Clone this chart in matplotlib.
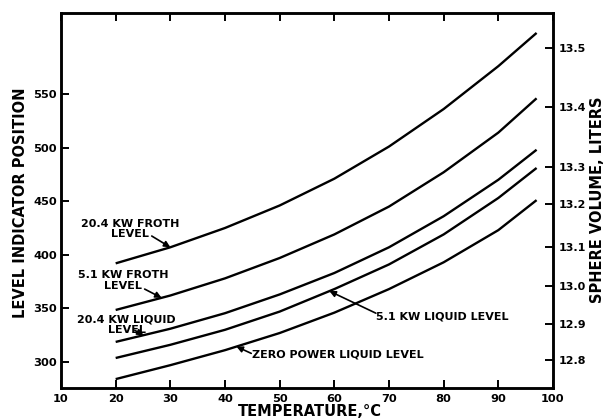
import matplotlib
matplotlib.use("Agg")
import matplotlib.pyplot as plt
import numpy as np

# ---- data ----
temperature = [20, 30, 40, 50, 60, 70, 80, 90, 97]
froth_20kw = [392, 407, 425, 446, 471, 501, 536, 576, 607]
froth_5kw = [348.5, 362, 378, 397, 419, 445, 477, 514, 546]
liquid_20kw = [318.7, 331, 345.5, 363, 383, 407, 436, 470, 498]
liquid_5kw = [303.7, 316, 330, 347, 368, 391, 419, 453, 481]
liquid_zero = [284, 297, 311, 327, 346, 368, 393, 423, 451]

x_ticks = [10, 20, 30, 40, 50, 60, 70, 80, 90, 100]
y_ticks = [300, 350, 400, 450, 500, 550]
volume_labels = ['13.5', '13.4', '13.3', '13.2', '13.1', '13.0', '12.9', '12.8']
volume_tick_pos = [592.9, 537.9, 481.9, 447.4, 407.3, 370.9, 335.4, 301.9]

plt.rcParams['font.family'] = ['DejaVu Sans']
plt.rcParams['font.weight'] = 'bold'

W, H = 607, 419
fig = plt.figure(figsize=(W / 100, H / 100), dpi=100)
ax = fig.add_axes([61/W, 1-388/H, (553-61)/W, (388-13)/H])

lw = 1.7
for s in (froth_20kw, froth_5kw, liquid_20kw, liquid_5kw, liquid_zero):
    ax.plot(temperature, s, color='black', lw=lw, solid_capstyle='butt',
            solid_joinstyle='round')

ax.set_xlim(10, 100)
ax.set_ylim(275.7, 625.6)
ax.set_xticks(x_ticks)
ax.set_xticklabels([str(v) for v in x_ticks])
ax.set_yticks(y_ticks)
ax.set_yticklabels([str(v) for v in y_ticks])
ax.tick_params(axis='both', direction='in', length=6, width=1.4, labelsize=8.2, pad=3)
ax.tick_params(axis='x', top=True, pad=4)
for sp in ax.spines.values():
    sp.set_linewidth(1.8)

ax2 = ax.twinx()
ax2.set_ylim(ax.get_ylim())
ax2.set_yticks(volume_tick_pos)
ax2.set_yticklabels(volume_labels)
ax2.tick_params(axis='y', direction='in', length=6, width=1.4, labelsize=8, pad=4)
for sp in ax2.spines.values():
    sp.set_linewidth(1.8)

fig.text(310/W, 1-411/H, 'TEMPERATURE,°C', ha='center', va='center',
         fontsize=10.5, fontweight='bold')
fig.text(21/W, 1-203/H, 'LEVEL INDICATOR POSITION', ha='center', va='center',
         rotation=90, fontsize=10.5, fontweight='bold')
fig.text(597/W, 1-200/H, 'SPHERE VOLUME, LITERS', ha='center', va='center',
         rotation=90, fontsize=10.5, fontweight='bold')

arrow = dict(arrowstyle='-|>', color='black', lw=1.2, mutation_scale=9,
             shrinkA=0, shrinkB=0)
tfs = 8

def tip(t, series):
    return (t, float(np.interp(t, temperature, series)))

ax.annotate('', xy=tip(30, froth_20kw), xytext=(26.6, 417.5), arrowprops=arrow)
ax.text(22.6, 424, '20.4 KW FROTH\nLEVEL', ha='center', va='center',
        fontsize=tfs, fontweight='bold', linespacing=1.1)

ax.annotate('', xy=tip(28.4, froth_5kw), xytext=(25.3, 368), arrowprops=arrow)
ax.text(21.3, 376, '5.1 KW FROTH\nLEVEL', ha='center', va='center',
        fontsize=tfs, fontweight='bold', linespacing=1.1)

ax.annotate('', xy=tip(25.1, liquid_20kw), xytext=(23.5, 329.5), arrowprops=arrow)
ax.text(22.0, 335, '20.4 KW LIQUID\nLEVEL', ha='center', va='center',
        fontsize=tfs, fontweight='bold', linespacing=1.1)

ax.annotate('', xy=tip(42.1, liquid_zero), xytext=(44.8, 308), arrowprops=arrow)
ax.text(44.9, 306.5, 'ZERO POWER LIQUID LEVEL', ha='left', va='center',
        fontsize=tfs, fontweight='bold')

ax.annotate('', xy=tip(59.1, liquid_5kw), xytext=(67.6, 345.5), arrowprops=arrow)
ax.text(67.6, 342, '5.1 KW LIQUID LEVEL', ha='left', va='center',
        fontsize=tfs, fontweight='bold')

fig.savefig('out.png', dpi=100)
